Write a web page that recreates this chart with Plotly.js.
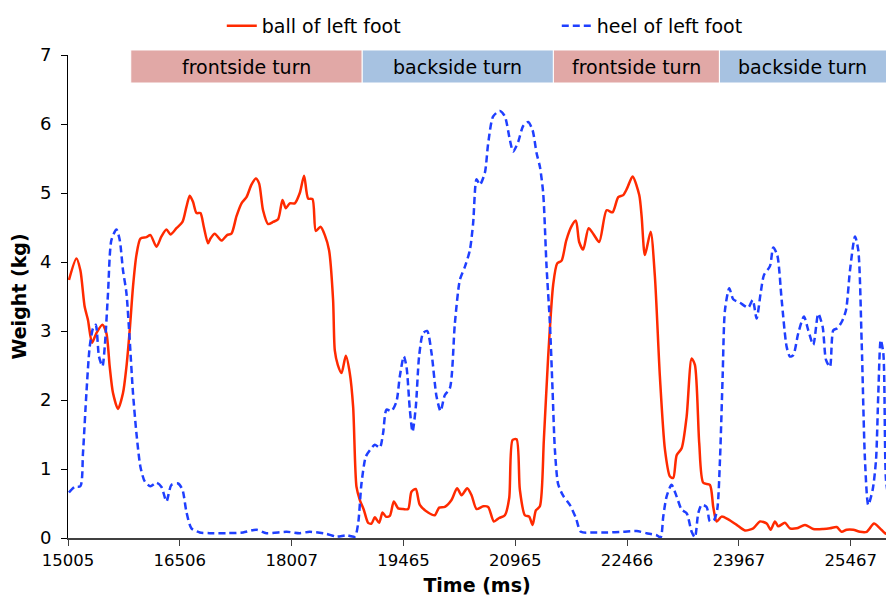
<!DOCTYPE html>
<html>
<head>
<meta charset="utf-8">
<script src="https://cdn.plot.ly/plotly-3.0.1.min.js"></script>
<style>html,body{margin:0;padding:0;background:#fff;}#chart{width:886px;height:596px;}</style>
</head>
<body>
<div id="chart"></div>
<script>
// ---- data ----
const ballTime = [15018,15118,15171,15229,15273,15327,15386,15467,15520,15565,15609,15676,15743,15789,15833,15877,15923,15977,16057,16111,16192,16259,16326,16380,16460,16541,16594,16639,16683,16729,16782,16827,16884,16916,16974,17064,17139,17198,17265,17333,17400,17467,17525,17569,17622,17690,17757,17824,17883,17927,17981,18048,18115,18173,18227,18286,18330,18393,18451,18508,18562,18585,18625,18675,18733,18786,18831,18876,18921,18974,19032,19078,19122,19180,19225,19270,19323,19377,19435,19502,19569,19614,19672,19726,19837,19927,19985,20061,20151,20226,20286,20361,20420,20487,20576,20643,20719,20790,20867,20925,20970,21024,21068,21135,21193,21239,21283,21337,21390,21448,21515,21569,21628,21690,21762,21820,21864,21918,21990,22052,22133,22232,22312,22388,22455,22508,22581,22670,22702,22746,22823,22880,22947,23015,23082,23126,23172,23239,23306,23373,23417,23475,23529,23618,23663,23709,23776,23864,23977,24088,24200,24290,24380,24433,24491,24535,24625,24692,24782,24894,25005,25139,25229,25319,25386,25453,25542,25632,25722,25820,25900,25967,26035];
const ballKg = [3.74,4.05,3.88,3.35,3.16,2.83,2.97,3.09,2.97,2.48,2.10,1.87,2.10,2.48,3.01,3.64,4.10,4.34,4.36,4.39,4.22,4.37,4.47,4.40,4.49,4.58,4.80,4.96,4.87,4.71,4.71,4.51,4.27,4.34,4.41,4.31,4.39,4.41,4.66,4.85,4.94,5.12,5.21,5.14,4.75,4.55,4.58,4.62,4.90,4.78,4.85,4.85,5.00,5.25,4.92,4.91,4.45,4.51,4.39,4.17,3.45,2.72,2.51,2.39,2.64,2.39,1.90,0.74,0.55,0.41,0.22,0.21,0.30,0.22,0.37,0.31,0.32,0.53,0.43,0.42,0.42,0.67,0.71,0.48,0.37,0.33,0.44,0.45,0.55,0.72,0.62,0.72,0.62,0.42,0.46,0.45,0.24,0.29,0.33,0.58,1.42,1.43,0.70,0.33,0.31,0.19,0.40,0.46,1.42,2.63,3.67,3.98,4.02,4.31,4.52,4.60,4.29,4.18,4.49,4.41,4.29,4.75,4.72,4.94,4.97,5.07,5.24,4.97,4.66,4.10,4.44,3.79,2.34,1.28,0.89,0.87,1.20,1.30,1.76,2.60,2.51,1.37,0.80,0.77,0.45,0.24,0.31,0.27,0.19,0.11,0.14,0.24,0.21,0.12,0.24,0.17,0.22,0.14,0.14,0.19,0.13,0.13,0.14,0.16,0.09,0.12,0.12,0.09,0.09,0.21,0.14,0.07,0.04];

const heelTime = [15018,15095,15171,15206,15252,15296,15341,15377,15421,15467,15498,15542,15588,15655,15699,15743,15789,15833,15877,15923,15977,16035,16111,16192,16259,16326,16393,16482,16541,16594,16661,16773,16907,17131,17354,17534,17668,17937,18115,18249,18473,18608,18742,18853,18898,18943,19001,19055,19122,19189,19233,19279,19346,19413,19457,19511,19547,19592,19628,19672,19716,19770,19824,19883,19950,20004,20061,20129,20196,20263,20330,20397,20441,20487,20531,20598,20643,20710,20800,20867,20934,20978,21045,21112,21180,21239,21292,21337,21381,21426,21471,21507,21538,21582,21645,21739,21820,21887,22052,22232,22455,22635,22769,22903,22957,22992,23037,23104,23172,23239,23306,23373,23417,23462,23507,23574,23618,23672,23716,23753,23789,23820,23878,23931,24021,24133,24192,24245,24299,24343,24424,24468,24522,24581,24648,24692,24737,24804,24880,24938,25005,25072,25131,25176,25229,25274,25327,25386,25444,25498,25565,25609,25655,25699,25743,25802,25847,25878,25910,25945,25981,26021];
const heelKg = [0.66,0.74,0.75,1.23,2.10,2.77,3.04,3.09,2.63,2.49,2.77,3.55,4.32,4.47,4.32,3.88,3.55,2.87,2.10,1.52,1.03,0.82,0.75,0.80,0.74,0.53,0.77,0.79,0.70,0.38,0.14,0.08,0.07,0.07,0.08,0.12,0.07,0.09,0.07,0.09,0.06,0.02,0.04,0.02,0.21,0.79,1.18,1.27,1.35,1.31,1.52,1.86,1.84,1.98,2.34,2.63,2.48,1.86,1.54,1.90,2.63,2.97,3.00,2.68,2.05,1.84,2.07,2.17,3.11,3.74,3.93,4.17,4.56,5.20,5.12,5.29,5.72,6.11,6.19,6.11,5.77,5.60,5.74,5.97,6.03,5.91,5.58,5.38,5.00,3.94,3.11,2.14,1.28,0.78,0.62,0.48,0.29,0.09,0.08,0.08,0.09,0.10,0.07,0.04,0.01,0.31,0.60,0.77,0.60,0.41,0.36,0.09,0.01,0.36,0.48,0.45,0.24,0.26,0.41,1.13,2.34,3.30,3.62,3.46,3.41,3.34,3.45,3.18,3.55,3.81,3.94,4.21,4.10,3.45,2.77,2.63,2.65,2.97,3.21,3.01,2.80,3.25,3.06,2.58,2.48,3.01,3.04,3.13,3.30,3.88,4.37,4.17,2.82,1.13,0.48,0.70,1.13,2.10,2.87,2.68,0.84,0.55];

const seriesNames = ['ball of left foot', 'heel of left foot'];
const tickPositions = [15005, 16505, 18006, 19506, 21007, 22507, 24007, 25508];
const tickLabels = ['15005', '16506', '18007', '19465', '20965', '22466', '23967', '25467'];
const phaseLabels = ['frontside turn', 'backside turn', 'frontside turn', 'backside turn'];
const phaseStart = [15847, 18953, 21518, 23746];
const phaseEnd = [18953, 21518, 23746, 26200];

// ---- styling ----
const FONT = 'DejaVu Sans, Verdana, sans-serif';
const phaseColors = {'frontside turn': '#e1a8a6', 'backside turn': '#a7c2e1'};
const X_MAX = 25981;

const traces = [
  {x: ballTime, y: ballKg, name: seriesNames[0], type: 'scatter', mode: 'lines',
   line: {color: '#ff2a00', width: 2.5, shape: 'spline', smoothing: 0.7}},
  {x: heelTime, y: heelKg, name: seriesNames[1], type: 'scatter', mode: 'lines',
   line: {color: '#1f3fff', width: 2.5, dash: '7px,4px', shape: 'spline', smoothing: 0.7}}
];

const shapes = phaseLabels.map((lab, i) => ({
  type: 'rect', xref: 'x', yref: 'paper', x0: phaseStart[i], x1: phaseEnd[i],
  y0: 0.942, y1: 1.0104, fillcolor: phaseColors[lab], line: {color: '#ffffff', width: 1}, layer: 'below'
}));
const annotations = phaseLabels.map((lab, i) => ({
  xref: 'x', yref: 'paper', x: (phaseStart[i] + Math.min(phaseEnd[i], X_MAX)) / 2, y: 0.976,
  text: lab, showarrow: false, xanchor: 'center', yanchor: 'middle',
  font: {family: FONT, size: 19, color: '#000'}
}));

const layout = {
  width: 886, height: 596,
  margin: {l: 68, r: 0, t: 55, b: 58, autoexpand: false},
  paper_bgcolor: '#fff', plot_bgcolor: '#fff',
  font: {family: FONT, color: '#000'},
  showlegend: true,
  legend: {orientation: 'h', x: 0.188, xanchor: 'left', y: 1.06, yanchor: 'middle',
           font: {family: FONT, size: 19, color: '#000'}, entrywidth: 290, bgcolor: 'rgba(0,0,0,0)'},
  xaxis: {
    range: [15005, X_MAX], showgrid: false, zeroline: false, automargin: false,
    showline: true, linecolor: '#404040', linewidth: 2,
    ticks: 'outside', ticklen: 6, tickcolor: '#404040', tickwidth: 1,
    tickmode: 'array', tickvals: tickPositions, ticktext: tickLabels,
    tickfont: {family: FONT, size: 16.5, color: '#000'},
    title: {text: 'Time (ms)', font: {family: FONT, size: 19, weight: 700, color: '#000'}, standoff: 12}
  },
  yaxis: {
    range: [0, 7], showgrid: false, zeroline: false, automargin: false,
    showline: true, linecolor: '#000', linewidth: 1,
    ticks: 'outside', ticklen: 6, tickcolor: '#000', dtick: 1,
    tickfont: {family: FONT, size: 18, color: '#000'}, ticklabelstandoff: 6,
    title: {text: 'Weight (kg)', font: {family: FONT, size: 19, weight: 700, color: '#000'}, standoff: 8}
  },
  shapes: shapes,
  annotations: annotations
};

Plotly.newPlot('chart', traces, layout, {displayModeBar: false, staticPlot: true});
</script>
</body>
</html>
